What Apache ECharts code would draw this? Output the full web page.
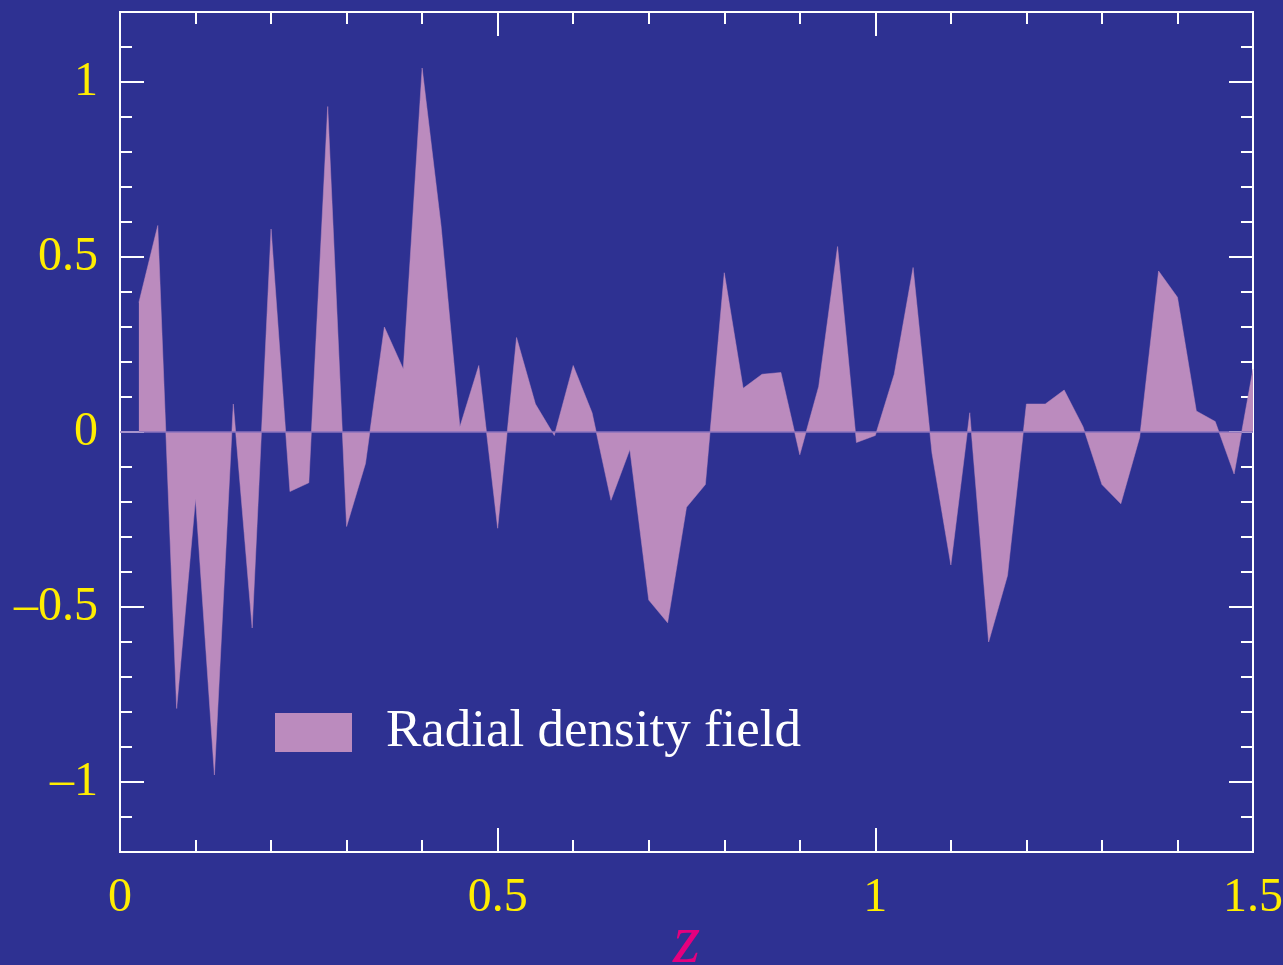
<!DOCTYPE html>
<html>
<head>
<meta charset="utf-8">
<title>Radial density field</title>
<script src="https://cdn.jsdelivr.net/npm/echarts@6/dist/echarts.min.js"></script>
<style>
  html, body { margin: 0; padding: 0; background: #2E3192; }
  #chart { width: 1283px; height: 965px; }
</style>
</head>
<body>
<div id="chart"></div>
<script>
// Redshift samples
const zValues = [
  0.025, 0.05, 0.075, 0.1, 0.125, 0.15, 0.175, 0.2, 0.225, 0.25,
  0.275, 0.3, 0.325, 0.35, 0.375, 0.4, 0.425, 0.45, 0.475, 0.5,
  0.525, 0.55, 0.575, 0.6, 0.625, 0.65, 0.675, 0.7, 0.725, 0.75,
  0.775, 0.8, 0.825, 0.85, 0.875, 0.9, 0.925, 0.95, 0.975, 1.0,
  1.025, 1.05, 1.075, 1.1, 1.125, 1.15, 1.175, 1.2, 1.225, 1.25,
  1.275, 1.3, 1.325, 1.35, 1.375, 1.4, 1.425, 1.45, 1.475, 1.5
];

// Density contrast at each redshift
const densityValues = [
  0.37, 0.59, -0.79, -0.19, -0.98, 0.08, -0.56, 0.58, -0.17, -0.145,
  0.93, -0.27, -0.09, 0.30, 0.18, 1.04, 0.59, 0.015, 0.19, -0.275,
  0.27, 0.08, -0.01, 0.19, 0.055, -0.195, -0.05, -0.48, -0.545, -0.215,
  -0.15, 0.455, 0.125, 0.165, 0.17, -0.065, 0.13, 0.53, -0.03, -0.01,
  0.165, 0.47, -0.06, -0.38, 0.055, -0.6, -0.41, 0.08, 0.08, 0.12,
  0.015, -0.15, -0.205, -0.015, 0.46, 0.385, 0.06, 0.03, -0.12, 0.18
];

// Labelled tick positions
const xMajorTicks = [0, 0.5, 1, 1.5];
const yMajorTicks = [-1, -0.5, 0, 0.5, 1];

const seriesName = 'Radial density field';
const axisTitle = 'z';

const BG = '#2E3192';
const FILL = '#BB8BBE';
const YELLOW = '#FFED00';
const SERIF = "'Liberation Serif', 'DejaVu Serif', 'Times New Roman', serif";

function fmt(v) {
  const r = Math.round(v * 100) / 100;
  if (r < 0) return '\u2013' + String(-r);
  return String(r);
}

const chart = echarts.init(document.getElementById('chart'), null, { renderer: 'canvas' });

const tickLine = { color: '#FFFFFF', width: 2 };

function xAxisPair(pos, withLabels) {
  return [
    {
      type: 'value', position: pos, min: 0, max: 1.5, interval: 0.1,
      axisLine: { show: true, onZero: false, lineStyle: tickLine },
      axisTick: { show: true, inside: true, length: 12, lineStyle: tickLine },
      splitLine: { show: false },
      axisLabel: { show: false }
    },
    {
      type: 'value', position: pos, min: 0, max: 1.5,
      axisLine: { show: false, onZero: false },
      axisTick: { show: true, inside: true, length: 24, lineStyle: tickLine, customValues: xMajorTicks },
      splitLine: { show: false },
      axisLabel: withLabels ? {
        show: true, margin: 22, color: YELLOW, fontFamily: SERIF, fontSize: 48,
        customValues: xMajorTicks, formatter: v => fmt(v)
      } : { show: false },
      name: withLabels ? axisTitle : '',
      nameLocation: 'middle', nameGap: 57, nameMoveOverlap: false,
      nameTextStyle: { color: '#E5007E', fontFamily: SERIF, fontStyle: 'italic', fontSize: 70 }
    }
  ];
}

function yAxisPair(pos, withLabels) {
  return [
    {
      type: 'value', position: pos, min: -1.2, max: 1.2, interval: 0.1,
      axisLine: { show: true, onZero: false, lineStyle: tickLine },
      axisTick: { show: true, inside: true, length: 12, lineStyle: tickLine },
      splitLine: { show: false },
      axisLabel: { show: false }
    },
    {
      type: 'value', position: pos, min: -1.2, max: 1.2,
      axisLine: { show: false, onZero: false },
      axisTick: { show: true, inside: true, length: 24, lineStyle: tickLine, customValues: yMajorTicks },
      splitLine: { show: false },
      axisLabel: withLabels ? {
        show: true, margin: 22, color: YELLOW, fontFamily: SERIF, fontSize: 48,
        customValues: yMajorTicks, formatter: v => fmt(v)
      } : { show: false }
    }
  ];
}

const points = zValues.map((z, i) => [z, densityValues[i]]);

chart.setOption({
  backgroundColor: BG,
  animation: false,
  grid: {
    left: 120, right: 30, top: 12, bottom: 113,
    outerBoundsMode: 'none', containLabel: false,
    show: true, borderColor: '#FFFFFF', borderWidth: 2, backgroundColor: 'transparent'
  },
  xAxis: [...xAxisPair('bottom', true), ...xAxisPair('top', false)],
  yAxis: [...yAxisPair('left', true), ...yAxisPair('right', false)],
  legend: {
    show: true,
    left: 270, top: 701,
    icon: 'rect', itemWidth: 77, itemHeight: 39,
    data: [seriesName],
    textStyle: { color: '#FFFFFF', fontFamily: SERIF, fontSize: 53, padding: [0, 0, 0, 29] }
  },
  series: [{
    name: seriesName,
    type: 'line',
    xAxisIndex: 0, yAxisIndex: 0,
    data: points,
    showSymbol: false,
    color: FILL,
    lineStyle: { color: FILL, width: 0.5 },
    areaStyle: { color: FILL, opacity: 1, origin: 0 },
    markLine: {
      silent: true, symbol: 'none', label: { show: false },
      lineStyle: { color: '#8B72BC', width: 1.5, type: 'solid' },
      data: [{ yAxis: 0 }]
    }
  }]
});
</script>
</body>
</html>
